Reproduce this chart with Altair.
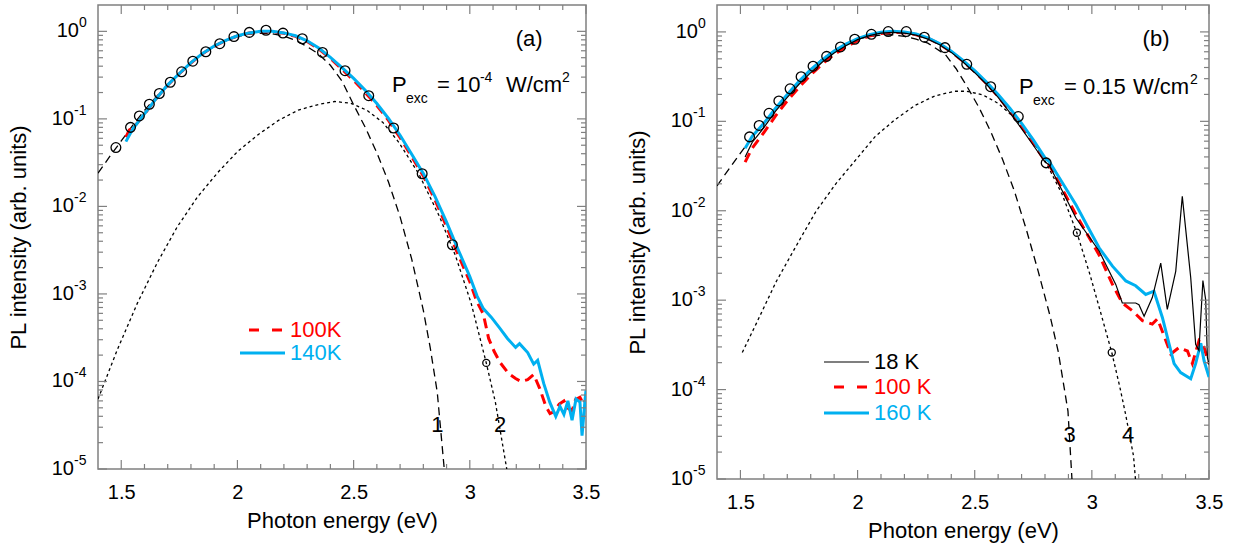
import altair as alt
import pandas as pd

FONT = "Liberation Sans"
RED = "#ff0000"
CYAN = "#00b0f0"
GRAY = "#808080"

# ---------------- panel (a) data ----------------
a_fit1_E = [1.40, 1.45, 1.50, 1.55, 1.60, 1.65, 1.70, 1.75, 1.80, 1.85, 1.90, 1.95, 2.00, 2.05, 2.10, 2.15,
            2.20, 2.25, 2.30, 2.35, 2.40, 2.45, 2.50, 2.55, 2.60, 2.65, 2.70, 2.75, 2.80, 2.83, 2.86, 2.89]
a_fit1_I = [0.024, 0.037, 0.056, 0.085, 0.125, 0.178, 0.245, 0.33, 0.44, 0.555, 0.67, 0.78, 0.87, 0.93, 0.95, 0.94,
            0.88, 0.79, 0.67, 0.55, 0.41, 0.27, 0.145, 0.08, 0.041, 0.019, 0.0076, 0.0025, 0.00065, 0.00024, 0.000075, 0.00001]

a_fit2_E = [1.40, 1.483, 1.569, 1.656, 1.742, 1.829, 1.916, 2.002, 2.089, 2.175, 2.262, 2.348, 2.418, 2.487,
            2.556, 2.626, 2.695, 2.781, 2.868, 2.937, 3.006, 3.071, 3.11, 3.159]
a_fit2_I = [6.3e-5, 2.3e-4, 7.8e-4, 2.3e-3, 5.9e-3, 0.0129, 0.0245, 0.0427, 0.066, 0.0955, 0.126, 0.146, 0.158, 0.151,
            0.126, 0.091, 0.0537, 0.0234, 0.0078, 0.0028, 7.8e-4, 1.62e-4, 5.8e-5, 1e-5]

a_circ_E = [1.477, 1.540, 1.578, 1.621, 1.664, 1.711, 1.760, 1.808, 1.864, 1.924, 1.985, 2.051, 2.123, 2.196,
            2.279, 2.366, 2.463, 2.565, 2.672, 2.795, 2.925]
a_circ_I = [0.047, 0.080, 0.108, 0.147, 0.195, 0.262, 0.345, 0.456, 0.585, 0.723, 0.871, 0.973, 1.03, 0.955,
            0.823, 0.574, 0.355, 0.184, 0.0787, 0.0236, 0.00365]
a_circ_small_E = [3.071]
a_circ_small_I = [1.63e-4]

a_100K_E = [1.52, 1.535, 1.55, 1.60, 1.65, 1.70, 1.75, 1.80, 1.85, 1.90, 1.95, 2.00, 2.05, 2.10, 2.15, 2.20, 2.25,
            2.30, 2.35, 2.40, 2.45, 2.50, 2.55, 2.60, 2.65, 2.70, 2.75, 2.80, 2.85, 2.90, 2.95, 3.00, 3.03, 3.058,
            3.081, 3.105, 3.13, 3.167, 3.197, 3.22, 3.249, 3.275, 3.301, 3.327, 3.345, 3.361, 3.385, 3.405, 3.42,
            3.44, 3.455, 3.474, 3.49, 3.5]
a_100K_I = [0.062, 0.075, 0.078, 0.113, 0.17, 0.243, 0.328, 0.435, 0.555, 0.675, 0.785, 0.885, 0.955, 0.99, 0.99,
            0.95, 0.875, 0.765, 0.63, 0.49, 0.37, 0.275, 0.2, 0.142, 0.096, 0.061, 0.037, 0.0222, 0.0119, 0.0059,
            0.0028, 0.00138, 0.00082, 0.00059, 0.00031, 0.00022, 0.000165, 0.000123, 0.000108, 0.0001, 0.000105,
            0.00012, 8.3e-5, 5.2e-5, 4.3e-5, 4.5e-5, 5.5e-5, 6.0e-5, 5.0e-5, 4.6e-5, 6.2e-5, 6.6e-5, 5.5e-5, 6.3e-5]

a_140K_E = [1.52, 1.55, 1.60, 1.65, 1.70, 1.75, 1.80, 1.85, 1.90, 1.95, 2.00, 2.05, 2.10, 2.15, 2.20, 2.25, 2.30,
            2.35, 2.40, 2.45, 2.50, 2.55, 2.60, 2.65, 2.70, 2.75, 2.80, 2.85, 2.90, 2.95, 3.00, 3.031, 3.058, 3.093,
            3.128, 3.162, 3.197, 3.214, 3.249, 3.275, 3.292, 3.318, 3.344, 3.37, 3.388, 3.405, 3.422, 3.44, 3.457,
            3.474, 3.483, 3.495, 3.5]
a_140K_I = [0.055, 0.077, 0.114, 0.17, 0.245, 0.33, 0.44, 0.56, 0.68, 0.79, 0.89, 0.96, 1.0, 1.0, 0.96, 0.89, 0.78,
            0.645, 0.505, 0.385, 0.29, 0.212, 0.15, 0.101, 0.065, 0.0395, 0.0238, 0.013, 0.0066, 0.0032, 0.00158,
            0.00095, 0.00068, 0.00054, 0.00041, 0.00031, 0.000245, 0.00027, 0.000214, 0.000158, 0.000174, 9.5e-5,
            5.8e-5, 4.0e-5, 5.2e-5, 4.2e-5, 6.0e-5, 3.6e-5, 6.3e-5, 5.8e-5, 2.4e-5, 5.8e-5, 7.9e-5]

# ---------------- panel (b) data ----------------
b_fit3_E = [1.40, 1.45, 1.50, 1.55, 1.60, 1.65, 1.70, 1.75, 1.80, 1.85, 1.90, 1.95, 2.00, 2.05, 2.10, 2.15, 2.20,
            2.25, 2.30, 2.375, 2.42, 2.466, 2.517, 2.568, 2.619, 2.669, 2.72, 2.771, 2.822, 2.856, 2.881, 2.898, 2.915]
b_fit3_I = [0.019, 0.029, 0.044, 0.066, 0.096, 0.14, 0.20, 0.28, 0.38, 0.50, 0.62, 0.73, 0.83, 0.89, 0.92, 0.93,
            0.89, 0.83, 0.75, 0.557, 0.39, 0.248, 0.145, 0.077, 0.0375, 0.0167, 0.0062, 0.0021, 0.00066, 0.00027,
            0.000108, 0.0000575, 0.00001]

b_fit4_E = [1.508, 1.568, 1.653, 1.737, 1.822, 1.907, 1.992, 2.076, 2.161, 2.246, 2.331, 2.415, 2.466, 2.534,
            2.602, 2.669, 2.737, 2.805, 2.873, 2.936, 2.992, 3.042, 3.085, 3.119, 3.144, 3.178, 3.186]
b_fit4_I = [2.6e-4, 5.5e-4, 1.62e-3, 4.0e-3, 9.8e-3, 0.02, 0.037, 0.068, 0.105, 0.151, 0.193, 0.217, 0.217, 0.198,
            0.158, 0.11, 0.067, 0.0343, 0.0153, 0.00568, 0.00193, 6.6e-4, 2.6e-4, 1.08e-4, 5.3e-5, 1.8e-5, 1e-5]

b_circ_E = [1.539, 1.580, 1.622, 1.664, 1.712, 1.759, 1.810, 1.868, 1.927, 1.988, 2.059, 2.131, 2.208, 2.285,
            2.373, 2.466, 2.568, 2.686, 2.805]
b_circ_I = [0.067, 0.090, 0.123, 0.169, 0.231, 0.316, 0.414, 0.533, 0.679, 0.828, 0.94, 1.01, 1.01, 0.873,
            0.667, 0.434, 0.244, 0.113, 0.0343]
b_circ_small_E = [2.936, 3.085]
b_circ_small_I = [0.00568, 2.6e-4]

b_body_E = [1.52, 1.55, 1.60, 1.65, 1.70, 1.75, 1.80, 1.85, 1.90, 1.95, 2.00, 2.05, 2.10, 2.15, 2.20, 2.25, 2.30,
            2.35, 2.40, 2.45, 2.50, 2.55, 2.60, 2.65, 2.70, 2.75, 2.80]

b_18K_E = b_body_E + [2.818, 2.932, 3.031, 3.074, 3.102, 3.130, 3.165, 3.187, 3.201, 3.223, 3.258, 3.294, 3.322,
                      3.358, 3.386, 3.422, 3.443, 3.457, 3.474, 3.486, 3.493, 3.5]
b_18K_I = [0.04, 0.058, 0.085, 0.13, 0.185, 0.26, 0.35, 0.46, 0.58, 0.70, 0.82, 0.91, 0.97, 0.99, 0.97, 0.92, 0.83,
           0.72, 0.59, 0.46, 0.35, 0.26, 0.185, 0.125, 0.083, 0.054, 0.035,
           0.0326, 0.0083, 0.00355, 0.0021, 0.0015, 0.00093, 0.00093, 0.00093, 0.00089, 0.00066, 0.00107, 0.0026,
           0.00079, 0.0021, 0.0145, 0.00178, 0.00032, 0.000275, 0.00166, 0.001, 0.00023, 0.00019]

b_100K_E = b_body_E + [2.818, 2.932, 3.031, 3.088, 3.130, 3.173, 3.216, 3.258, 3.280, 3.308, 3.337, 3.372, 3.408,
                       3.429, 3.457, 3.479, 3.5]
b_100K_I = [0.035, 0.05, 0.075, 0.115, 0.17, 0.24, 0.33, 0.44, 0.56, 0.68, 0.80, 0.90, 0.96, 0.99, 0.98, 0.93, 0.85,
            0.73, 0.60, 0.47, 0.36, 0.265, 0.19, 0.13, 0.087, 0.057, 0.036,
            0.0326, 0.0091, 0.0032, 0.0015, 0.00093, 0.00076, 0.00059, 0.00054, 0.00062, 0.0004, 0.00025, 0.000295,
            0.00027, 0.000195, 0.00035, 0.000295, 0.000195]

b_160K_E = b_body_E + [2.818, 2.932, 2.98, 3.031, 3.088, 3.145, 3.187, 3.230, 3.265, 3.301, 3.330, 3.351, 3.379,
                       3.422, 3.443, 3.465, 3.479, 3.5]
b_160K_I = [0.05, 0.068, 0.095, 0.14, 0.2, 0.28, 0.38, 0.49, 0.61, 0.73, 0.84, 0.93, 0.99, 1.02, 1.0, 0.95, 0.86,
            0.74, 0.61, 0.48, 0.37, 0.275, 0.2, 0.14, 0.095, 0.062, 0.039,
            0.0355, 0.0117, 0.0068, 0.00385, 0.0024, 0.00164, 0.00145, 0.00116, 0.00126, 0.00064, 0.00032, 0.000195,
            0.000155, 0.000132, 0.000195, 0.00033, 0.00021, 0.000138]

# ---------------- axes ----------------
x_major = [1.5, 2.0, 2.5, 3.0, 3.5]
x_minor = [1.6, 1.7, 1.8, 1.9, 2.1, 2.2, 2.3, 2.4, 2.6, 2.7, 2.8, 2.9, 3.1, 3.2, 3.3, 3.4]
y_major = [1e-5, 1e-4, 1e-3, 1e-2, 1e-1, 1.0]
y_label_base = ["10", "10", "10", "10", "10", "10"]
y_label_exp = ["-5", "-4", "-3", "-2", "-1", "0"]
y_minor = [m * 10.0 ** k for k in range(-5, 1) for m in range(2, 10) if m * 10.0 ** k < 2.0]

xs = alt.Scale(domain=[1.4, 3.5], nice=False, zero=False)
ys = alt.Scale(type="log", domain=[1e-5, 2.0], nice=False)

x_axis = alt.Axis(values=x_major, format="~g", title="Photon energy (eV)", ticks=False, tickSize=0, domain=False,
                  grid=False, labelFontSize=20, labelPadding=13, titleFontSize=22, titlePadding=8,
                  titleFontWeight="normal", labelFlush=False, labelOverlap=False, labelColor="black",
                  titleColor="black", labelFont=FONT, titleFont=FONT)
y_axis = alt.Axis(values=y_major, labels=False, title="PL intensity (arb. units)", ticks=False, tickSize=0,
                  domain=False, grid=False, titleFontSize=22, titlePadding=68,
                  titleFontWeight="normal", titleColor="black", titleFont=FONT)


def X(field):
    return alt.X(field, scale=xs, axis=x_axis)


def Y(field):
    return alt.Y(field, scale=ys, axis=y_axis)


def table(E, I):
    return pd.DataFrame({"E": E, "I": I})


def line(E, I, color, width, dash=None):
    kw = dict(color=color, strokeWidth=width, clip=True)
    if dash:
        kw["strokeDash"] = dash
    return alt.Chart(table(E, I)).mark_line(**kw).encode(x=X("E:Q"), y=Y("I:Q"))


def circles(E, I, size):
    return alt.Chart(table(E, I)).mark_point(shape="circle", filled=False, color="black", size=size,
                                             strokeWidth=1.3, opacity=1, clip=True).encode(x=X("E:Q"), y=Y("I:Q"))


def ticks(W, H):
    out = []
    for vals, L in ((x_major, 9), (x_minor, 5)):
        base = alt.Chart(pd.DataFrame({"E": vals})).mark_rule(color=GRAY, strokeWidth=1.2)
        out.append(base.encode(x=X("E:Q"), y=alt.value(H), y2=alt.value(H - L)))
        out.append(base.encode(x=X("E:Q"), y=alt.value(0), y2=alt.value(L)))
    for vals, L in ((y_major, 9), (y_minor, 5)):
        base = alt.Chart(pd.DataFrame({"I": vals})).mark_rule(color=GRAY, strokeWidth=1.2)
        out.append(base.encode(y=Y("I:Q"), x=alt.value(0), x2=alt.value(L)))
        out.append(base.encode(y=Y("I:Q"), x=alt.value(W), x2=alt.value(W - L)))
    return out


def y_labels():
    d = pd.DataFrame({"I": y_major, "b": y_label_base, "e": y_label_exp})
    out = []
    for test, xr in (("datum.I < 0.5", -24), ("datum.I > 0.5", -19)):
        base = alt.Chart(d).transform_filter(test)
        out.append(base.mark_text(align="right", baseline="middle", fontSize=20, font=FONT, color="black")
                   .encode(x=alt.value(xr), y=Y("I:Q"), text="b:N"))
        out.append(base.mark_text(align="left", baseline="middle", fontSize=14, font=FONT, color="black", dy=-8)
                   .encode(x=alt.value(xr), y=Y("I:Q"), text="e:N"))
    return out


def text_at(E, I, text, size, dx=0, dy=0, align="left", baseline="alphabetic", color="black"):
    d = pd.DataFrame({"E": [E], "I": [I], "t": [text]})
    return alt.Chart(d).mark_text(align=align, baseline=baseline, dx=dx, dy=dy, fontSize=size, font=FONT,
                                  color=color).encode(x=X("E:Q"), y=Y("I:Q"), text="t:N")


def legend_row(x0, x1, y, tx, color, width, text, dash=None):
    d = pd.DataFrame({"t": [text]})
    kw = dict(color=color, strokeWidth=width)
    if dash:
        kw["strokeDash"] = dash
    r = alt.Chart(d).mark_rule(**kw).encode(x=alt.value(x0), x2=alt.value(x1), y=alt.value(y))
    t = alt.Chart(d).mark_text(align="left", baseline="middle", fontSize=22, font=FONT, color=color).encode(
        x=alt.value(tx), y=alt.value(y), text="t:N")
    return [r, t]


def pexc(E, I, parts):
    return [text_at(E, I, txt, size, dx=dx, dy=dy) for txt, dx, dy, size in parts]


DASH_LONG = [8, 5]
DASH_SHORT = [3, 3]
DASH_RED = [10, 6]

# ---------------- panel (a) ----------------
WA, HA = 488, 464
layers_a = [
    line(a_fit1_E, a_fit1_I, "black", 1.3, DASH_LONG),
    line(a_fit2_E, a_fit2_I, "black", 1.3, DASH_SHORT),
    line(a_100K_E, a_100K_I, RED, 3, DASH_RED),
    line(a_140K_E, a_140K_I, CYAN, 3),
    circles(a_circ_E, a_circ_I, 95),
    circles(a_circ_small_E, a_circ_small_I, 50),
] + ticks(WA, HA) + y_labels() + [
    text_at(3.255, 0.82, "(a)", 22, align="center", baseline="middle"),
    text_at(2.86, 3.2e-5, "1", 22, align="center", baseline="middle"),
    text_at(3.13, 3.2e-5, "2", 22, align="center", baseline="middle"),
] + pexc(2.665, 0.203, [("P", 0, 0, 22), ("exc", 14, 11, 14), ("= 10", 45, 0, 22), ("-4", 88, -10, 14),
                         ("W/cm", 114, 0, 22), ("2", 170, -10, 14)]) \
  + legend_row(151, 184, 325, 192, RED, 3, "100K", [10, 13]) \
  + legend_row(142, 187, 348, 192, CYAN, 3, "140K")

panel_a = alt.layer(*layers_a).properties(width=WA, height=HA)

# ---------------- panel (b) ----------------
WB, HB = 492, 474
layers_b = [
    line(b_fit3_E, b_fit3_I, "black", 1.3, DASH_LONG),
    line(b_fit4_E, b_fit4_I, "black", 1.3, DASH_SHORT),
    line(b_100K_E, b_100K_I, RED, 3, DASH_RED),
    line(b_160K_E, b_160K_I, CYAN, 3),
    line(b_18K_E, b_18K_I, "black", 1.2),
    circles(b_circ_E, b_circ_I, 95),
    circles(b_circ_small_E, b_circ_small_I, 50),
] + ticks(WB, HB) + y_labels() + [
    text_at(3.274, 0.83, "(b)", 22, align="center", baseline="middle"),
    text_at(2.905, 3.1e-5, "3", 22, align="center", baseline="middle"),
    text_at(3.155, 3.1e-5, "4", 22, align="center", baseline="middle"),
] + pexc(2.689, 0.202, [("P", 0, 0, 22), ("exc", 14, 11, 14), ("= 0.15", 45, 0, 22),
                         ("W/cm", 114, 0, 22), ("2", 171, -10, 14)]) \
  + legend_row(107, 152, 357, 157, "black", 1.2, "18 K") \
  + legend_row(117, 150, 382, 157, RED, 3, "100 K", [10, 13]) \
  + legend_row(107, 152, 408, 157, CYAN, 3, "160 K")

panel_b = alt.layer(*layers_b).properties(width=WB, height=HB)

chart = alt.hconcat(panel_a, panel_b, spacing=24).properties(
    padding={"left": 6, "top": 3, "right": 5, "bottom": 5},
    background="white",
).configure_view(stroke=GRAY, strokeWidth=1.5).configure_text(font=FONT)

chart.save("out.html", embed_options={"renderer": "svg", "actions": False})
